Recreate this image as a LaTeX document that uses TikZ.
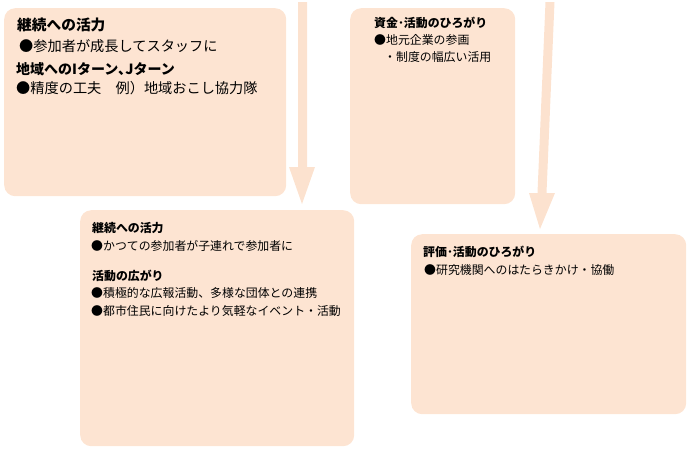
\documentclass[tikz,border=0pt]{standalone}
\usepackage{fontspec}
\setmainfont{Noto Sans CJK JP}
\begin{document}
\begin{tikzpicture}[x=1pt,y=-1pt,
  box/.style={fill=boxfill,draw=none,rounded corners=11pt,inner sep=0pt,anchor=north west},
  arrowfill/.style={fill=arrfill,draw=none},
  big/.style={anchor=base west,inner sep=0pt,font=\fontsize{14.2}{16}\selectfont},
  bigh/.style={anchor=base west,inner sep=0pt,font=\fontsize{14}{16}\selectfont\bfseries},
  small/.style={anchor=base west,inner sep=0pt,font=\fontsize{11.9}{14}\selectfont},
  smallh/.style={anchor=base west,inner sep=0pt,font=\fontsize{11.9}{14}\selectfont\bfseries}]
\definecolor{boxfill}{HTML}{FDE4D2}
\definecolor{arrfill}{HTML}{FCE2CF}
\useasboundingbox (0,0) rectangle (696,451);
% boxes
\node[box,minimum width=282pt,minimum height=188pt] (b1) at (4,8) {};
\node[box,minimum width=165pt,minimum height=196pt] (b2) at (350,8) {};
\node[box,minimum width=274pt,minimum height=236pt] (b3) at (80,210) {};
\node[box,minimum width=275pt,minimum height=180pt] (b4) at (411,234) {};
% arrows
\fill[arrowfill] (298,2) -- (307,2) -- (307,167) -- (315,167) -- (302,204) -- (289,167) -- (298,167) -- cycle;
\fill[arrowfill] (545.5,2) -- (554.5,2) -- (546.5,193) -- (555,193) -- (540,229) -- (529,193) -- (537.5,193) -- cycle;
% box 1
\node[bigh,font=\fontsize{14.7}{16}\selectfont\bfseries] (t11) at (17,30) {継続への活力};
\node[big] (t12) at (19,51) {●参加者が成長してスタッフに};
\node[bigh] (t13) at (16,74) {地域へのIターン､Jターン};
\node[big] (t14) at (16,93) {●精度の工夫　例）地域おこし協力隊};
% box 2
\node[smallh] (t21) at (374,27) {資金･活動のひろがり};
\node[small] (t22) at (374,44) {●地元企業の参画};
\node[small] (t23) at (384,61) {・制度の幅広い活用};
% box 3
\node[smallh] (t31) at (92,232) {継続への活力};
\node[small] (t32) at (91,250) {●かつての参加者が子連れで参加者に};
\node[smallh] (t33) at (92,280) {活動の広がり};
\node[small] (t34) at (91,297) {●積極的な広報活動、多様な団体との連携};
\node[small] (t35) at (91,315) {●都市住民に向けたより気軽なイベント・活動};
% box 4
\node[smallh] (t41) at (423,256) {評価･活動のひろがり};
\node[small] (t42) at (424,274) {●研究機関へのはたらきかけ・協働};
\end{tikzpicture}
\end{document}
